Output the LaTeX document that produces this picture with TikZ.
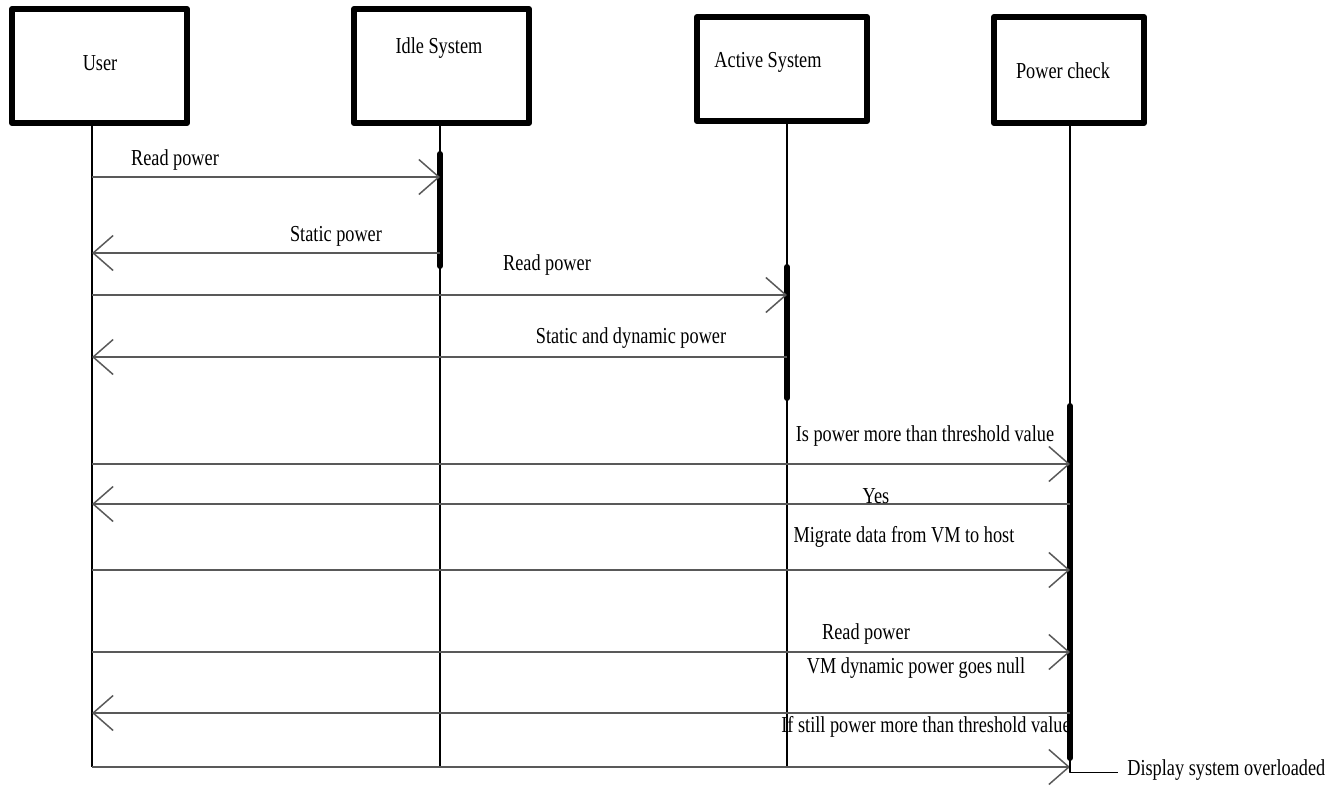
\documentclass[tikz,border=0pt]{standalone}
\usepackage{fontspec}
\setmainfont{Liberation Serif}[FakeStretch=0.8]
\usetikzlibrary{arrows.meta}
\tikzset{
  actor/.style={draw, line width=3.4pt, inner sep=0pt},
  lifeline/.style={line width=1.1pt},
  activation/.style={line width=3.4pt, line cap=round},
  msg/.style={line width=0.85pt, draw=black!65, -{Straight Barb[length=4mm,width=7mm]}},
  lbl/.style={inner sep=0pt}
}
\begin{document}
\begin{tikzpicture}[x=0.02cm, y=-0.02cm, font=\fontsize{13}{15}\selectfont, line join=round]
\useasboundingbox (0,0) rectangle (1336,785);
% actors
\node[actor, minimum width=3.5cm, minimum height=2.28cm] (user) at (99.5,66) {};
\node[actor, minimum width=3.5cm, minimum height=2.28cm] (idle) at (441.5,66) {};
\node[actor, minimum width=3.4cm, minimum height=2.08cm] (active) at (782,69) {};
\node[actor, minimum width=3cm, minimum height=2.12cm] (power) at (1069,70) {};
\node[lbl] at (100,63) {User};
\node[lbl] at (439,48) {Idle System};
\node[lbl] at (768,62) {Active System};
\node[lbl] at (1063,71) {Power check};
% lifelines
\coordinate (userL) at (92,767);
\coordinate (idleL) at (440,767);
\coordinate (activeL) at (787,767);
\coordinate (powerL) at (1070,767);
\draw[lifeline] (userL |- user.south) -- (userL);
\draw[lifeline] (idleL |- idle.south) -- (idleL);
\draw[lifeline] (activeL |- active.south) -- (activeL);
\draw[lifeline] (powerL |- power.south) -- (powerL);
% activations
\draw[activation] (idleL |- 0,154) -- (idleL |- 0,266);
\draw[activation] (activeL |- 0,267) -- (activeL |- 0,398);
\draw[activation] (powerL |- 0,406) -- (powerL |- 0,758);
% messages
\draw[msg] (userL |- 0,177) -- (idleL |- 0,177);
\node[lbl] at (175,160) {Read power};
\draw[msg] (idleL |- 0,253) -- (userL |- 0,253);
\node[lbl] at (336,236) {Static power};
\draw[msg] (userL |- 0,295) -- (activeL |- 0,295);
\node[lbl] at (547,265) {Read power};
\draw[msg] (activeL |- 0,357) -- (userL |- 0,357);
\node[lbl] at (631,338) {Static and dynamic power};
\draw[msg] (userL |- 0,464) -- (powerL |- 0,464);
\node[lbl] at (925,436) {Is power more than threshold value};
\draw[msg] (powerL |- 0,504) -- (userL |- 0,504);
\node[lbl] at (876,496) {Yes};
\draw[msg] (userL |- 0,570) -- (powerL |- 0,570);
\node[lbl] at (904,537) {Migrate data from VM to host};
\draw[msg] (userL |- 0,652) -- (powerL |- 0,652);
\node[lbl] at (866,634) {Read power};
\node[lbl] at (916,668) {VM dynamic power goes null};
\draw[msg] (powerL |- 0,713) -- (userL |- 0,713);
\node[lbl] at (926,727) {If still power more than threshold value};
\draw[msg] (userL |- 0,767) -- (powerL |- 0,767);
% result
\node[lbl, anchor=west] (display) at (1127,770) {Display system overloaded};
\draw[lifeline] (powerL |- 0,758) |- ([xshift=-0.18cm,yshift=-0.05cm]display.west);
\end{tikzpicture}
\end{document}
